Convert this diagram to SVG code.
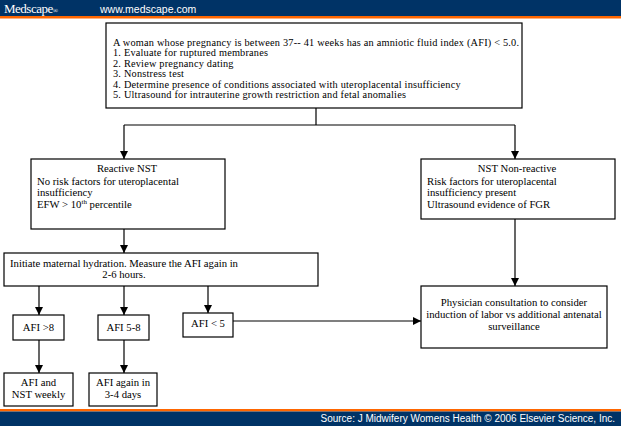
<svg xmlns="http://www.w3.org/2000/svg" width="621" height="426" viewBox="0 0 621 426">
<style>
.box{fill:#fff;stroke:#000;stroke-width:1.2}
.t{font-family:"Liberation Serif","Times New Roman",serif;font-size:10.7px;fill:#000}
.tt{font-family:"Liberation Serif","Times New Roman",serif;font-size:10.3px;letter-spacing:0.2px;fill:#000}
.c{text-anchor:middle}
.ln{stroke:#000;stroke-width:1.2;fill:none}
.hd{font-family:"Liberation Sans",Arial,sans-serif;fill:#fff}
</style>
<defs>
<marker id="ah" markerUnits="userSpaceOnUse" markerWidth="8" markerHeight="8" viewBox="0 0 8 8" refX="8" refY="4" orient="auto">
<path d="M0,0 L8,4 L0,8 Z" fill="#000"/>
</marker>
</defs>
<rect width="621" height="426" fill="#fff"/>
<g id="header">
<rect x="0" y="0" width="621" height="16" fill="#003366"/>
<rect x="0" y="16" width="621" height="2.5" fill="#ff6600"/>
<text x="4" y="13" font-family="Liberation Serif,serif" font-size="13" fill="#fff" letter-spacing="-0.5">Medscape<tspan font-size="7">®</tspan></text>
<text class="hd" x="100" y="12.5" font-size="10.5">www.medscape.com</text>
</g>
<g id="footer">
<rect x="0" y="409" width="621" height="2.5" fill="#ff6600"/>
<rect x="0" y="411.5" width="621" height="14.5" fill="#003366"/>
<text class="hd" x="615" y="421.5" font-size="10" text-anchor="end">Source: J Midwifery Womens Health © 2006 Elsevier Science, Inc.</text>
</g>
<g id="connectors">
<path class="ln" d="M316,108 V125 M124,125 H515"/>
<path class="ln" d="M124,125 V159" marker-end="url(#ah)"/>
<path class="ln" d="M515,125 V159" marker-end="url(#ah)"/>
<path class="ln" d="M124,229 V253" marker-end="url(#ah)"/>
<path class="ln" d="M515,219 V286" marker-end="url(#ah)"/>
<path class="ln" d="M39,286 V315" marker-end="url(#ah)"/>
<path class="ln" d="M124,286 V315" marker-end="url(#ah)"/>
<path class="ln" d="M208,286 V313" marker-end="url(#ah)"/>
<path class="ln" d="M233,321 H421" marker-end="url(#ah)"/>
<path class="ln" d="M39,340 V373" marker-end="url(#ah)"/>
<path class="ln" d="M124,340 V373" marker-end="url(#ah)"/>
</g>
<g id="n-start">
<rect class="box" x="106" y="23" width="416" height="85"/>
<text class="tt" x="113" y="45.5">A woman whose pregnancy is between 37-- 41 weeks has an amniotic fluid index (AFI) &lt; 5.0.</text>
<text class="tt" x="113" y="56">1. Evaluate for ruptured membranes</text>
<text class="tt" x="113" y="66.5">2. Review pregnancy dating</text>
<text class="tt" x="113" y="77">3. Nonstress test</text>
<text class="tt" x="113" y="87.5">4. Determine presence of conditions associated with uteroplacental insufficiency</text>
<text class="tt" x="113" y="98">5. Ultrasound for intrauterine growth restriction and fetal anomalies</text>
</g>
<g id="n-reactive">
<rect class="box" x="31" y="159" width="194" height="70"/>
<text class="t c" x="127" y="172">Reactive NST</text>
<text class="t" x="37" y="185">No risk factors for uteroplacental</text>
<text class="t" x="37" y="196">insufficiency</text>
<text class="t" x="37" y="207.5">EFW &gt; 10<tspan font-size="7" dy="-4">th</tspan><tspan dy="4"> percentile</tspan></text>
</g>
<g id="n-nonreactive">
<rect class="box" x="421" y="159" width="194" height="60"/>
<text class="t c" x="517" y="172">NST Non-reactive</text>
<text class="t" x="427" y="185">Risk factors for uteroplacental</text>
<text class="t" x="427" y="196">insufficiency present</text>
<text class="t" x="427" y="208">Ultrasound evidence of FGR</text>
</g>
<g id="n-hydration">
<rect class="box" x="4" y="253" width="314" height="33"/>
<text class="t c" x="124" y="266.5">Initiate maternal hydration. Measure the AFI again in</text>
<text class="t c" x="124" y="278">2-6 hours.</text>
</g>
<g id="n-afi8">
<rect class="box" x="13" y="315" width="51" height="25"/>
<text class="t c" x="38.5" y="331">AFI &gt;8</text>
</g>
<g id="n-afi58">
<rect class="box" x="98" y="315" width="51" height="25"/>
<text class="t c" x="123.5" y="331">AFI 5-8</text>
</g>
<g id="n-afi5">
<rect class="box" x="183" y="313" width="50" height="24"/>
<text class="t c" x="208" y="327">AFI &lt; 5</text>
</g>
<g id="n-physician">
<rect class="box" x="421" y="286" width="186" height="62"/>
<text class="t c" x="514" y="306">Physician consultation to consider</text>
<text class="t c" x="514" y="318">induction of labor vs additional antenatal</text>
<text class="t c" x="514" y="329.5">surveillance</text>
</g>
<g id="n-weekly">
<rect class="box" x="4" y="373" width="69" height="33"/>
<text class="t c" x="38.5" y="386">AFI and</text>
<text class="t c" x="38.5" y="398">NST weekly</text>
</g>
<g id="n-again">
<rect class="box" x="89" y="373" width="68" height="33"/>
<text class="t c" x="123" y="386">AFI again in</text>
<text class="t c" x="123" y="398">3-4 days</text>
</g>
</svg>
